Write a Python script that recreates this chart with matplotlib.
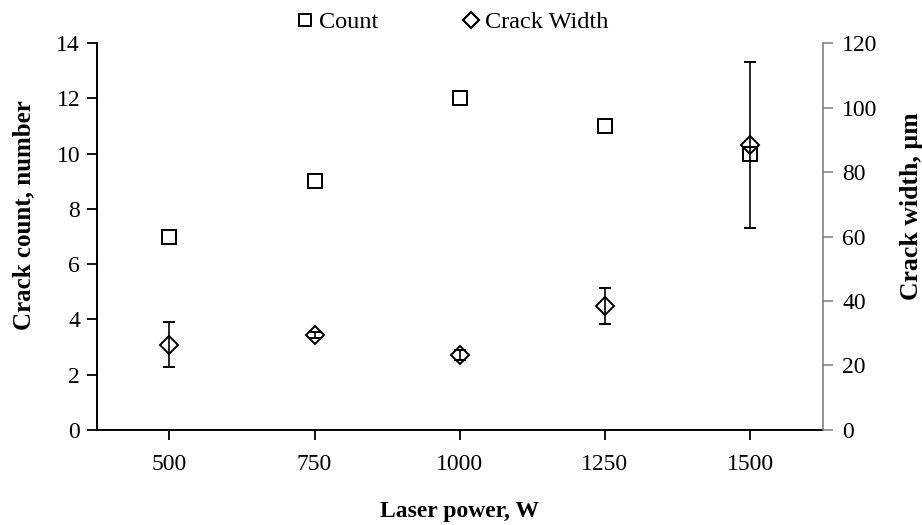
import numpy as np
import matplotlib.pyplot as plt
from matplotlib.lines import Line2D

plt.rcParams['font.family'] = ['Liberation Serif', 'DejaVu Serif']

# Laser power levels and measured results
power = [500, 750, 1000, 1250, 1500]
crack_count = [7, 9, 12, 11, 10]
crack_width = [26.4, 29.4, 23.3, 38.4, 88.3]
width_err = [7.0, 0.9, 1.5, 5.6, 25.8]

fig = plt.figure(figsize=(9.22, 5.25), dpi=100)
ax = fig.add_axes([0.105, 0.181, 0.7873, 0.737])
ax2 = ax.twinx()

# Count on the left axis
ax.plot(power, crack_count, ls='none', marker='s', ms=9.5, mfc='white',
        mec='black', mew=1.4, zorder=3)

# Crack width with error bars on the right axis
ax2.errorbar(power, crack_width, yerr=width_err, ls='none', marker='D', ms=9.5,
             mfc='none', mec='black', mew=1.4, ecolor='black', elinewidth=1.2,
             capsize=4, capthick=1.2, zorder=4)

ax.set_xlim(375, 1625)
ax.set_ylim(0, 14)
ax2.set_ylim(0, 120)
ax.set_xticks(power)
ax.set_yticks(np.arange(0, 15, 2))
ax2.set_yticks(np.arange(0, 121, 20))

for s in ['top', 'right']:
    ax.spines[s].set_visible(False)
for s in ['top', 'left', 'bottom']:
    ax2.spines[s].set_visible(False)
ax.spines['left'].set_linewidth(1.4)
ax.spines['bottom'].set_linewidth(1.4)
ax2.spines['right'].set_color('#808080')
ax2.spines['right'].set_linewidth(1.2)

ax.tick_params(axis='both', direction='out', length=7, width=1.3,
               labelsize=17, colors='black')
ax.tick_params(axis='x', pad=10)
ax.tick_params(axis='y', pad=5)
ax2.tick_params(axis='y', direction='out', length=7, width=1.1,
                color='#808080', labelcolor='black', labelsize=17, pad=7)

ax.set_xlabel('Laser power, W', fontsize=17, fontweight='bold', labelpad=19)
ax.set_ylabel('Crack count, number', fontsize=18, fontweight='bold')
ax2.set_ylabel('Crack width, µm', fontsize=18.5, fontweight='bold')
ax.yaxis.set_label_coords(-0.085, 0.556)
ax2.yaxis.set_label_coords(1.106, 0.579)

handles = [
    Line2D([], [], ls='none', marker='s', ms=8.5, mfc='white', mec='black', mew=1.4),
    Line2D([], [], ls='none', marker='D', ms=8.5, mfc='white', mec='black', mew=1.6),
]
fig.legend(handles, ['Count', 'Crack Width'], loc='center',
           bbox_to_anchor=(0.49, 0.958), ncol=2, frameon=False, fontsize=17.5,
           handletextpad=0.2, columnspacing=3.4, handlelength=0.8,
           borderpad=0, borderaxespad=0)

fig.savefig('out.png', dpi=100)
